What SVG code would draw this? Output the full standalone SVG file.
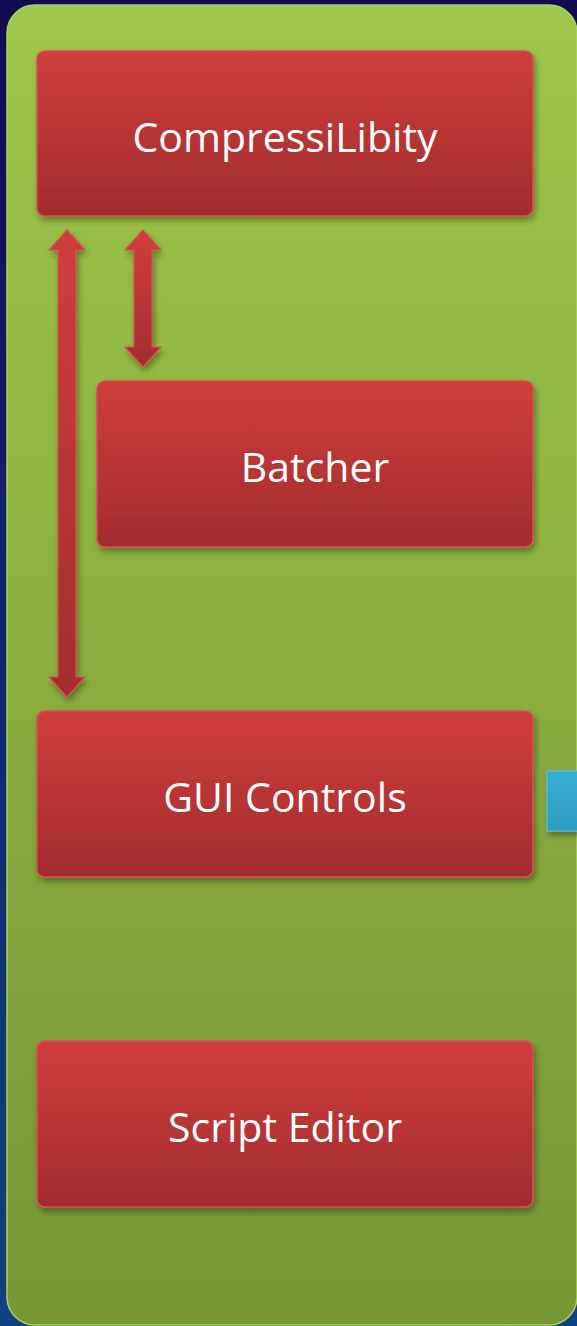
<svg xmlns="http://www.w3.org/2000/svg" width="577" height="1326" viewBox="0 0 577 1326">
  <defs>
    <linearGradient id="bg" x1="0" y1="0" x2="0" y2="1">
      <stop offset="0" stop-color="#140a50"/>
      <stop offset="1" stop-color="#0f4384"/>
    </linearGradient>
    <linearGradient id="panel" x1="0" y1="0" x2="0" y2="1">
      <stop offset="0" stop-color="#9ec74b"/>
      <stop offset="1" stop-color="#779635"/>
    </linearGradient>
    <linearGradient id="red" x1="0" y1="0" x2="0" y2="1">
      <stop offset="0" stop-color="#d03e3d"/>
      <stop offset="1" stop-color="#a12c2d"/>
    </linearGradient>
    <linearGradient id="arrowRed" x1="0" y1="0" x2="0" y2="1">
      <stop offset="0" stop-color="#d03e3d"/>
      <stop offset="1" stop-color="#a32d2e"/>
    </linearGradient>
    <linearGradient id="blue" x1="0" y1="0" x2="0" y2="1">
      <stop offset="0" stop-color="#36afd3"/>
      <stop offset="1" stop-color="#2e9cc0"/>
    </linearGradient>
    <filter id="sh" x="-10%" y="-10%" width="130%" height="130%">
      <feDropShadow dx="2" dy="4" stdDeviation="3" flood-color="#000" flood-opacity="0.35"/>
    </filter>
  </defs>
  <style>
    .box { fill: url(#red); stroke: #d9504f; stroke-width: 1.5; filter: url(#sh); }
    .label { font-family: "Open Sans", "Liberation Sans", sans-serif; font-size: 41px; fill: #ffffff; text-anchor: middle; dominant-baseline: central; }
    .arrow { fill: url(#arrowRed); stroke: #d9504f; stroke-width: 1.2; filter: url(#sh); }
  </style>
  <rect x="0" y="0" width="577" height="1326" fill="url(#bg)"/>
  <g id="panel-group">
    <rect x="7" y="5" width="570" height="1320" rx="28" fill="url(#panel)" stroke="#a8d35a" stroke-width="1.5"/>
  </g>
  <g id="connectors">
    <path class="arrow" d="M67,230 L85,250 L76,250 L76,677 L85,677 L67,697 L49,677 L58,677 L58,250 L49,250 Z"/>
    <path class="arrow" d="M143,230 L161,250 L152,250 L152,347 L161,347 L143,367 L125,347 L134,347 L134,250 L125,250 Z"/>
  </g>
  <g id="node-compressilibity">
    <rect class="box" x="37" y="51" width="496" height="165" rx="8"/>
    <text class="label" x="285" y="136">CompressiLibity</text>
  </g>
  <g id="node-batcher">
    <rect class="box" x="97" y="381" width="436" height="166" rx="8"/>
    <text class="label" x="315" y="466">Batcher</text>
  </g>
  <g id="node-gui-controls">
    <rect class="box" x="37" y="711" width="496" height="166" rx="8"/>
    <text class="label" x="285" y="796">GUI Controls</text>
  </g>
  <g id="node-script-editor">
    <rect class="box" x="37" y="1041" width="496" height="166" rx="8"/>
    <text class="label" x="285" y="1126">Script Editor</text>
  </g>
  <g id="node-blue">
    <rect x="547" y="771" width="40" height="60" fill="url(#blue)" stroke="#5cc3e3" stroke-width="1" filter="url(#sh)"/>
  </g>
</svg>
